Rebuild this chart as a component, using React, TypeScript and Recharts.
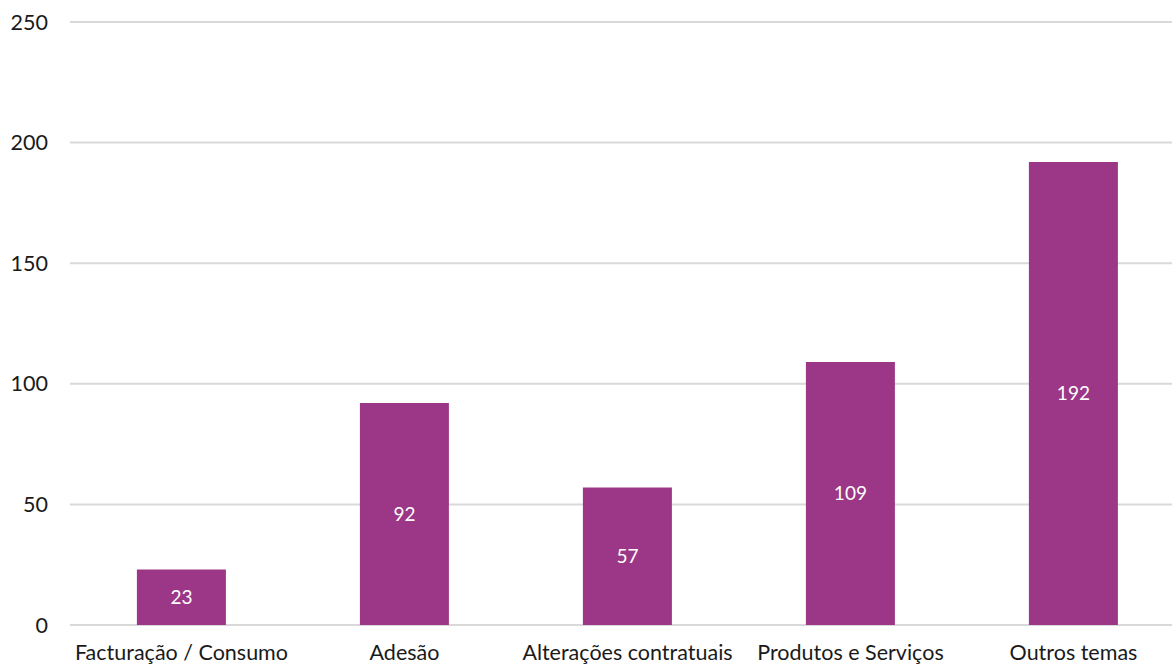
import React from "react";
import { BarChart, Bar, XAxis, YAxis, CartesianGrid, LabelList } from "recharts";

const categories = ["Facturação / Consumo", "Adesão", "Alterações contratuais", "Produtos e Serviços", "Outros temas"];
const values = [23, 92, 57, 109, 192];
const yTicks = [0, 50, 100, 150, 200, 250];

const data = categories.map((name, i) => ({ name, value: values[i] }));

const FONT = "Lato, 'Noto Sans', sans-serif";

export default function App() {
  return (
    <div style={{ position: "absolute", left: 0, top: 0, width: 1172, height: 666, background: "#fff", overflow: "hidden" }}>
      <BarChart width={1185} height={666} data={data} margin={{ top: 22, right: 0, left: 0, bottom: 0 }} barCategoryGap="30%">
        <CartesianGrid vertical={false} stroke="#d9d9d9" strokeWidth={2} />
        <XAxis
          dataKey="name"
          axisLine={false}
          tickLine={false}
          tickSize={0}
          tickMargin={20}
          height={41}
          interval={0}
          tick={{ fill: "#1a1a1a", fontSize: 21.5, fontFamily: FONT }}
        />
        <YAxis
          domain={[0, 250]}
          ticks={yTicks}
          axisLine={false}
          tickLine={false}
          tickSize={0}
          tickMargin={22}
          width={70}
          tick={{ fill: "#1a1a1a", fontSize: 21.5, fontFamily: FONT }}
        />
        <Bar dataKey="value" fill="#9b3786" isAnimationActive={false}>
          <LabelList dataKey="value" position="center" fill="#ffffff" fontSize={19} fontFamily={FONT} />
        </Bar>
      </BarChart>
    </div>
  );
}
